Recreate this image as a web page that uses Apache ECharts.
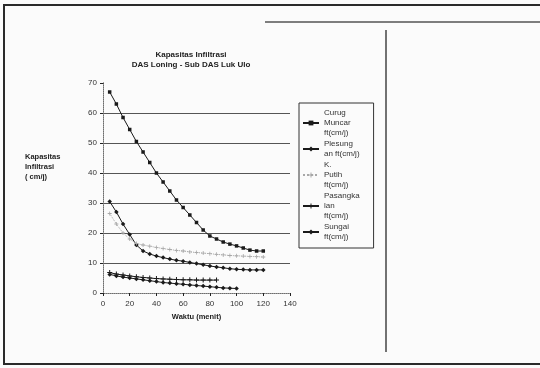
<!DOCTYPE html>
<html>
<head>
<meta charset="utf-8">
<script src="https://cdn.jsdelivr.net/npm/echarts@6/dist/echarts.min.js"></script>
<style>
  html, body { margin: 0; padding: 0; background: #fbfbfb; }
  #chart { width: 540px; height: 368px; }
</style>
</head>
<body>
<div id="chart"></div>
<script>
// waktu (menit)
const waktuPanjang = [5, 10, 15, 20, 25, 30, 35, 40, 45, 50, 55, 60, 65, 70, 75, 80, 85, 90, 95, 100, 105, 110, 115, 120];
const waktuD = [5, 10, 15, 20, 25, 30, 35, 40, 45, 50, 55, 60, 65, 70, 75, 80, 85];
const waktuE = [5, 10, 15, 20, 25, 30, 35, 40, 45, 50, 55, 60, 65, 70, 75, 80, 85, 90, 95, 100];

// kapasitas infiltrasi ft (cm/j)
const curugMuncar = [67, 63, 58.5, 54.5, 50.5, 47, 43.5, 40, 37, 34, 31, 28.5, 26, 23.5, 21, 19, 18, 17, 16.3, 15.7, 15, 14.3, 14, 14];
const plesungan = [30.5, 27, 23, 19.5, 16, 14, 13, 12.3, 11.8, 11.3, 10.9, 10.6, 10.2, 9.8, 9.4, 9, 8.7, 8.4, 8.1, 7.9, 7.8, 7.7, 7.7, 7.7];
const kPutih = [26.5, 23, 20, 18, 16.5, 16, 15.6, 15.2, 14.8, 14.5, 14.2, 14, 13.7, 13.5, 13.3, 13.1, 12.9, 12.7, 12.5, 12.4, 12.3, 12.2, 12.1, 12];
const pasangkalan = [6.8, 6.3, 6, 5.7, 5.4, 5.2, 5, 4.8, 4.7, 4.6, 4.5, 4.4, 4.4, 4.3, 4.3, 4.3, 4.3];
const sungai = [6.2, 5.7, 5.3, 5, 4.7, 4.4, 4.1, 3.8, 3.5, 3.3, 3.1, 2.9, 2.7, 2.5, 2.3, 2.1, 1.9, 1.7, 1.6, 1.5];

const yTicks = [0, 10, 20, 30, 40, 50, 60, 70];

const legendLabels = {
  'Curug Muncar ft(cm/j)': 'Curug\nMuncar\nft(cm/j)',
  'Plesungan ft(cm/j)': 'Plesung\nan ft(cm/j)',
  'K. Putih ft(cm/j)': 'K.\nPutih\nft(cm/j)',
  'Pasangkalan ft(cm/j)': 'Pasangka\nlan\nft(cm/j)',
  'Sungai ft(cm/j)': 'Sungai\nft(cm/j)'
};

const plus = 'path://M4,0H6V4H10V6H6V10H4V6H0V4H4Z';
const pair = (xs, ys) => xs.map((x, i) => [x, ys[i]]);

const chart = echarts.init(document.getElementById('chart'));
const font = 'Liberation Sans, Arial, sans-serif';

const mkSeries = (name, data, color, symbol, size, lineType) => ({
  name,
  type: 'line',
  data,
  symbol,
  symbolSize: size,
  showAllSymbol: true,
  itemStyle: { color },
  lineStyle: { color, width: 1, type: lineType },
  emphasis: { disabled: true },
  animation: false
});

chart.setOption({
  backgroundColor: '#fbfbfb',
  textStyle: { fontFamily: font },
  title: {
    text: 'Kapasitas Infiltrasi\nDAS Loning - Sub DAS Luk Ulo',
    left: 186,
    top: 45,
    textAlign: 'center',
    textStyle: { fontSize: 8, fontWeight: 'bold', color: '#222', lineHeight: 10, fontFamily: font }
  },
  legend: {
    orient: 'vertical',
    left: 299,
    top: 103,
    padding: [5, 14, 6, 3],
    itemGap: 1,
    itemWidth: 16,
    itemHeight: 6,
    borderColor: '#333',
    borderWidth: 1,
    formatter: n => legendLabels[n],
    textStyle: { fontSize: 8, lineHeight: 10, color: '#333', fontFamily: font },
    data: Object.keys(legendLabels)
  },
  grid: { left: 103, right: 250, top: 83, bottom: 75 },
  xAxis: [{
    type: 'value',
    min: 0,
    max: 140,
    interval: 20,
    name: 'Waktu (menit)',
    nameLocation: 'middle',
    nameGap: 17,
    nameTextStyle: { fontSize: 7.5, fontWeight: 'bold', color: '#222' },
    axisLine: { lineStyle: { color: '#222', width: 1 } },
    axisTick: { show: true, length: 3, lineStyle: { color: '#222' } },
    axisLabel: { fontSize: 8, color: '#333', margin: 7 },
    splitLine: { show: false }
  }, {
    type: 'value',
    position: 'top',
    min: 0,
    max: 140,
    axisLine: { show: true, lineStyle: { color: '#999', type: 'dotted' } },
    axisTick: { show: false },
    axisLabel: { show: false },
    splitLine: { show: false }
  }],
  yAxis: [{
    type: 'value',
    min: 0,
    max: 70,
    interval: 10,
    name: 'Kapasitas\nInfiltrasi\n( cm/j)',
    nameLocation: 'middle',
    nameRotate: 0,
    nameGap: 78,
    nameTextStyle: { fontSize: 7.5, fontWeight: 'bold', color: '#222', lineHeight: 10, align: 'left', verticalAlign: 'bottom', padding: [0, 0, 6, 0] },
    axisLine: { show: true, lineStyle: { color: '#222', width: 1 } },
    axisTick: { show: true, length: 3, lineStyle: { color: '#222' } },
    axisLabel: { fontSize: 8, color: '#333', margin: 6, formatter: v => yTicks.includes(v) ? String(v) : '' },
    splitLine: {
      show: true,
      lineStyle: { color: ['#222', '#555', '#555', '#555', '#555', '#555', '#555', 'transparent'], width: 1 }
    }
  }, {
    type: 'value',
    position: 'right',
    min: 0,
    max: 70,
    axisLine: { show: true, lineStyle: { color: '#999', type: 'dotted' } },
    axisTick: { show: false },
    axisLabel: { show: false },
    splitLine: { show: false }
  }],
  series: [
    mkSeries('Curug Muncar ft(cm/j)', pair(waktuPanjang, curugMuncar), '#1a1a1a', 'rect', 3.5, 'solid'),
    mkSeries('Plesungan ft(cm/j)', pair(waktuPanjang, plesungan), '#1a1a1a', 'diamond', 4.5, 'solid'),
    mkSeries('K. Putih ft(cm/j)', pair(waktuPanjang, kPutih), '#a8a8a8', plus, 4, 'dotted'),
    mkSeries('Pasangkalan ft(cm/j)', pair(waktuD, pasangkalan), '#1a1a1a', plus, 5, 'solid'),
    mkSeries('Sungai ft(cm/j)', pair(waktuE, sungai), '#1a1a1a', 'diamond', 4.5, 'solid')
  ],
  graphic: [
    { type: 'rect', shape: { x: 4, y: 5, width: 560, height: 359 }, style: { fill: 'none', stroke: '#2a2a2a', lineWidth: 2 }, silent: true },
    { type: 'line', shape: { x1: 265, y1: 22, x2: 540, y2: 22 }, style: { stroke: '#555', lineWidth: 1.5 }, silent: true },
    { type: 'line', shape: { x1: 386, y1: 30, x2: 386, y2: 352 }, style: { stroke: '#444', lineWidth: 1.5 }, silent: true }
  ]
});
</script>
</body>
</html>
